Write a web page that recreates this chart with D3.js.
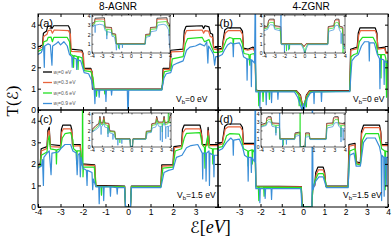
<!DOCTYPE html>
<html lang="en">
<head>
<script src="https://d3js.org/d3.v7.min.js"></script>
<style>
  body { margin: 0; background: #fff; }
  svg { display: block; font-family: "Liberation Sans", Arial, sans-serif; }
</style>
</head>
<body>
<svg id="chart" width="392" height="242"></svg>
<script>
// ---- data: transmission T(E), [E (eV), T] ----
const seriesNames = ['0 eV', '0.3 eV', '0.6 eV', '0.9 eV'];
const energyTicks = [-4, -3, -2, -1, 0, 1, 2, 3, 4];
const mainTicksT = [0, 1, 2, 3, 4];
const insetTicksT = [0, 1, 2, 3, 4];

// (a) 8-AGNR, Vb = 0
const aBlack = [[-4,2.95],[-3.8,3.05],[-3.76,3.6],[-3.62,3.7],[-3.58,3.9],[-3.45,3.95],[-3.38,3.82],[-3.3,3.95],[-2.65,3.95],[-2.58,3.8],[-2.55,2.85],[-2.05,2.8],[-2.0,2.65],[-1.97,1.95],[-1.65,1.95],[-1.6,1.8],[-1.58,0.98],[1.5,0.98],[1.53,1.2],[1.56,1.95],[1.86,1.95],[1.9,2.8],[2.45,2.85],[2.5,3.7],[2.58,3.92],[3.3,3.95],[3.36,3.82],[3.42,3.95],[3.6,3.9],[3.66,3.6],[3.76,3.55],[3.8,2.95],[4,2.9]];
const aRed = [[-4,2.85],[-3.8,2.95],[-3.75,3.45],[-3.6,3.55],[-3.55,3.72],[-3.42,3.75],[-3.36,3.6],[-3.28,3.75],[-2.65,3.72],[-2.56,3.55],[-2.52,2.75],[-2.05,2.72],[-1.98,2.55],[-1.94,1.92],[-1.65,1.9],[-1.58,1.7],[-1.55,0.97],[1.5,0.97],[1.55,1.25],[1.58,1.9],[1.86,1.9],[1.92,2.72],[2.45,2.75],[2.52,3.5],[2.6,3.72],[3.3,3.75],[3.36,3.6],[3.42,3.72],[3.58,3.7],[3.65,3.45],[3.76,3.4],[3.82,2.85],[4,2.82]];
const aGreen = [[-4,2.75],[-3.8,2.85],[-3.74,3.2],[-3.6,3.25],[-3.55,3.4],[-3.42,3.42],[-3.36,3.2],[-3.3,3.4],[-2.7,3.4],[-2.6,3.2],[-2.55,2.6],[-2.45,2.55],[-2.42,2.0],[-2.4,2.55],[-2.25,2.5],[-2.22,1.9],[-2.2,2.5],[-2.05,2.45],[-1.95,1.85],[-1.65,1.8],[-1.55,1.5],[-1.5,0.95],[-1.42,0.95],[-1.4,0.65],[-1.38,0.95],[-1.05,0.95],[-1.03,0.75],[-1.0,0.95],[1.5,0.95],[1.58,1.6],[1.62,1.8],[1.9,1.85],[1.97,2.4],[2.45,2.5],[2.55,3.1],[2.65,3.35],[3.3,3.4],[3.4,3.2],[3.6,3.3],[3.7,3.0],[3.82,2.7],[4,2.7]];
const aBlue = [[-4,2.6],[-3.85,2.7],[-3.75,3.0],[-3.72,2.0],[-3.7,3.0],[-3.55,3.1],[-3.45,3.05],[-3.38,2.1],[-3.35,3.0],[-3.2,3.1],[-3.1,3.2],[-3.0,3.05],[-2.85,3.2],[-2.7,3.0],[-2.6,2.6],[-2.5,2.5],[-2.48,2.0],[-2.46,2.45],[-2.3,2.4],[-2.28,1.9],[-2.26,2.35],[-2.1,2.3],[-1.95,1.75],[-1.75,1.7],[-1.62,1.4],[-1.55,1.0],[-1.5,0.93],[-1.47,0.3],[-1.45,0.93],[-1.3,0.93],[-1.28,0.6],[-1.26,0.93],[-1.0,0.93],[-0.98,0.4],[-0.96,0.93],[-0.75,0.93],[-0.73,0.7],[-0.71,0.93],[-0.03,0.93],[-0.01,0],[0.01,0],[0.03,0.93],[1.5,0.93],[1.6,1.5],[1.7,1.7],[1.9,1.75],[2.0,2.1],[2.2,2.2],[2.45,2.3],[2.6,2.8],[2.75,2.95],[3.0,3.0],[3.2,3.1],[3.4,3.0],[3.5,3.2],[3.55,2.2],[3.58,3.0],[3.7,2.8],[3.8,2.6],[3.85,2.1],[3.9,2.5],[4,2.5]];
const aInBlack = [[-4,3.2],[-3.75,3.3],[-3.68,3.75],[-2.72,3.8],[-2.66,2.8],[-2.0,2.75],[-1.95,2.1],[-1.58,2.05],[-1.52,1.0],[1.45,1.0],[1.5,2.0],[1.95,2.05],[2.0,2.75],[2.6,2.8],[2.66,3.75],[3.68,3.8],[3.75,3.3],[3.9,3.2],[4,2.8]];
const aInRed = [[-4,3.1],[-3.75,3.2],[-3.68,3.62],[-2.72,3.65],[-2.66,2.72],[-2.0,2.7],[-1.95,2.05],[-1.58,2.0],[-1.52,0.98],[1.45,0.98],[1.5,1.95],[1.95,2.0],[2.0,2.7],[2.6,2.72],[2.66,3.62],[3.68,3.65],[3.75,3.2],[3.9,3.1],[4,2.6]];
const aInGreen = [[-4,3.0],[-3.75,3.1],[-3.66,3.4],[-3.2,3.45],[-2.75,3.4],[-2.66,2.6],[-2.5,2.55],[-2.48,1.9],[-2.46,2.55],[-2.0,2.5],[-1.95,1.95],[-1.6,1.9],[-1.5,0.95],[-1.3,0.95],[-1.28,0.5],[-1.26,0.95],[1.45,0.95],[1.52,1.85],[1.95,1.9],[2.02,2.55],[2.6,2.6],[2.7,3.3],[3.65,3.4],[3.75,3.0],[3.9,2.9],[4,2.0]];
const aInBlue = [[-4,2.8],[-3.8,2.9],[-3.7,3.05],[-3.68,2.2],[-3.66,3.0],[-3.2,3.1],[-2.8,3.0],[-2.65,2.4],[-2.5,2.35],[-2.48,1.5],[-2.46,2.3],[-2.0,2.2],[-1.95,1.8],[-1.7,1.75],[-1.6,1.2],[-1.55,0.93],[-1.5,0.3],[-1.45,0.93],[-1.2,0.93],[-1.18,0.4],[-1.16,0.93],[-0.9,0.93],[-0.88,0.55],[-0.86,0.93],[1.45,0.93],[1.55,1.7],[1.95,1.8],[2.05,2.3],[2.6,2.4],[2.75,3.0],[3.3,3.1],[3.6,3.0],[3.75,2.7],[3.85,2.5],[3.95,0.8],[4,0.5]];

// (b) 4-ZGNR, Vb = 0
const bBlack = [[-4,2.85],[-3.8,2.9],[-3.75,3.3],[-3.68,3.75],[-3.55,3.85],[-2.95,3.85],[-2.85,3.7],[-2.8,2.9],[-2.6,2.85],[-2.35,2.95],[-2.25,2.8],[-2.22,0.95],[-2.1,0.9],[-0.3,0.9],[-0.12,0.7],[0.02,0.0],[0.16,0.7],[0.3,0.9],[2.2,0.92],[2.24,2.85],[2.55,2.95],[2.6,3.6],[2.68,3.85],[3.4,3.85],[3.48,3.6],[3.52,2.9],[3.85,2.95],[3.9,2.7],[4,2.7]];
const bRed = [[-4,2.8],[-3.8,2.85],[-3.74,3.2],[-3.66,3.6],[-3.52,3.72],[-2.95,3.72],[-2.85,3.55],[-2.8,2.85],[-2.6,2.8],[-2.35,2.88],[-2.26,2.7],[-2.22,0.93],[-2.1,0.88],[-0.3,0.88],[-0.12,0.65],[0.02,0.0],[0.16,0.65],[0.3,0.88],[2.2,0.9],[2.25,2.8],[2.55,2.88],[2.62,3.5],[2.7,3.72],[3.4,3.72],[3.48,3.5],[3.53,2.85],[3.85,2.9],[3.9,2.65],[4,2.65]];
const bGreen = [[-4,2.7],[-3.8,2.75],[-3.72,3.0],[-3.6,3.3],[-3.45,3.4],[-3.3,3.35],[-3.28,3.0],[-3.26,3.35],[-2.95,3.35],[-2.85,3.1],[-2.78,2.65],[-2.55,2.6],[-2.5,2.1],[-2.48,2.6],[-2.3,2.65],[-2.24,2.3],[-2.22,0.9],[-2.1,0.88],[-2.08,0.2],[-2.06,0.88],[-1.9,0.88],[-1.88,0.4],[-1.86,0.88],[-1.6,0.88],[-1.58,0.5],[-1.56,0.88],[-0.35,0.88],[-0.2,0.7],[-0.18,0.2],[-0.16,0.6],[0.0,0.0],[0.14,0.5],[0.16,0.15],[0.18,0.6],[0.35,0.85],[2.2,0.88],[2.26,2.5],[2.4,2.6],[2.55,2.65],[2.65,3.2],[2.8,3.4],[3.3,3.4],[3.45,3.1],[3.52,2.6],[3.65,2.6],[3.67,1.5],[3.69,2.6],[3.85,2.6],[3.9,2.4],[3.93,0.6],[3.96,2.3],[4,2.3]];
const bBlue = [[-4,2.5],[-3.8,2.6],[-3.7,2.8],[-3.55,3.05],[-3.4,3.15],[-3.3,3.1],[-3.28,2.5],[-3.26,3.1],[-3.0,3.15],[-2.9,2.95],[-2.8,2.5],[-2.65,2.4],[-2.63,1.4],[-2.61,2.4],[-2.45,2.35],[-2.43,1.1],[-2.41,2.35],[-2.28,2.2],[-2.24,6],[-2.22,0.85],[-2.05,0.85],[-2.03,0.1],[-2.01,0.85],[-1.75,0.85],[-1.73,0.25],[-1.71,0.85],[-1.5,0.85],[-1.48,0.35],[-1.46,0.85],[-1.2,0.85],[-1.18,0.5],[-1.16,0.85],[-0.4,0.85],[-0.25,0.6],[-0.05,0.0],[0.02,0.3],[0.05,0.0],[0.2,0.55],[0.35,0.8],[0.5,0.85],[0.52,0.3],[0.54,0.85],[0.85,0.85],[0.87,0.4],[0.89,0.85],[2.2,0.86],[2.3,2.3],[2.45,2.5],[2.6,2.6],[2.75,3.0],[2.9,3.2],[3.1,3.2],[3.12,2.3],[3.14,3.15],[3.35,3.15],[3.5,2.6],[3.6,2.4],[3.62,1.0],[3.64,2.4],[3.8,2.35],[3.82,1.2],[3.84,2.3],[4,2.2]];
const bInBlack = [[-4,2.8],[-3.65,2.9],[-3.55,3.5],[-3.45,3.65],[-3.0,3.65],[-2.95,2.95],[-2.35,2.85],[-2.3,1.0],[-0.25,1.0],[-0.05,0.7],[0.15,1.0],[2.3,1.0],[2.35,2.85],[2.9,2.95],[2.98,3.5],[3.1,3.65],[3.4,3.65],[3.45,2.9],[3.78,2.8],[3.82,0.9],[4,0.85]];
const bInRed = [[-4,2.72],[-3.65,2.82],[-3.55,3.4],[-3.45,3.55],[-3.0,3.55],[-2.95,2.85],[-2.35,2.78],[-2.3,0.98],[-0.25,0.98],[-0.05,0.65],[0.15,0.98],[2.3,0.98],[2.35,2.78],[2.9,2.88],[2.98,3.4],[3.1,3.55],[3.4,3.55],[3.45,2.85],[3.78,2.72],[3.82,0.85],[4,0.8]];
const bInGreen = [[-4,2.6],[-3.65,2.7],[-3.55,3.15],[-3.4,3.3],[-3.05,3.3],[-2.95,2.7],[-2.4,2.6],[-2.3,0.95],[-1.8,0.95],[-1.78,0.2],[-1.76,0.95],[-1.5,0.95],[-1.48,0.4],[-1.46,0.95],[-0.3,0.95],[-0.05,0.5],[0.05,0.0],[0.15,0.6],[0.3,0.95],[2.3,0.95],[2.38,2.6],[2.9,2.7],[3.0,3.2],[3.15,3.3],[3.35,3.25],[3.45,2.7],[3.75,2.6],[3.8,0.0],[3.85,0.7],[4,0.7]];
const bInBlue = [[-4,2.4],[-3.65,2.55],[-3.5,2.9],[-3.35,3.05],[-3.05,3.0],[-2.95,2.55],[-2.4,2.4],[-2.3,6],[-2.28,0.9],[-2.0,0.9],[-1.98,0.1],[-1.96,0.9],[-1.6,0.9],[-1.58,0.3],[-1.56,0.9],[-0.3,0.9],[-0.1,0.4],[0.0,0.0],[0.1,0.2],[0.2,0.5],[0.35,0.9],[2.3,0.9],[2.4,2.35],[2.9,2.5],[3.0,2.9],[3.2,3.0],[3.35,2.95],[3.45,2.5],[3.6,2.2],[3.62,1.0],[3.64,2.1],[3.78,2.0],[3.85,0.5],[4,0.5]];

// (c) 8-AGNR, Vb = 1.5 eV
const cBlack = [[-4,1.95],[-3.9,2.0],[-3.86,2.7],[-3.6,2.8],[-3.56,3.55],[-3.5,3.7],[-3.46,2.9],[-3.0,2.85],[-2.96,3.6],[-2.9,3.8],[-2.55,3.8],[-2.5,3.6],[-2.47,2.9],[-2.12,2.9],[-2.08,2.0],[-1.48,1.95],[-1.44,1.0],[-0.15,0.97],[-0.11,0.0],[0.11,0.0],[0.15,0.97],[1.46,0.97],[1.5,1.95],[2.0,1.95],[2.04,2.8],[2.38,2.85],[2.42,3.6],[2.5,3.8],[3.2,3.8],[3.26,3.5],[3.3,2.9],[3.52,2.9],[3.56,3.7],[3.62,2.9],[4,2.9]];
const cRed = [[-4,1.9],[-3.9,1.95],[-3.85,2.6],[-3.6,2.72],[-3.55,3.45],[-3.5,3.55],[-3.45,2.8],[-3.0,2.78],[-2.95,3.45],[-2.88,3.62],[-2.55,3.62],[-2.48,3.4],[-2.45,2.82],[-2.12,2.85],[-2.06,1.95],[-1.48,1.92],[-1.42,0.97],[-0.15,0.95],[-0.11,0.0],[0.11,0.0],[0.15,0.95],[1.46,0.95],[1.52,1.9],[2.0,1.92],[2.06,2.75],[2.38,2.8],[2.44,3.45],[2.55,3.62],[3.2,3.62],[3.28,3.3],[3.32,2.85],[3.52,2.85],[3.56,3.55],[3.62,2.85],[4,2.85]];
const cGreen = [[-4,1.85],[-3.9,1.9],[-3.85,2.4],[-3.6,2.55],[-3.55,3.1],[-3.5,3.3],[-3.45,2.7],[-3.2,2.65],[-3.18,2.0],[-3.16,2.65],[-3.0,2.7],[-2.92,3.2],[-2.8,3.4],[-2.55,3.45],[-2.45,3.1],[-2.42,2.7],[-2.3,2.6],[-2.28,2.0],[-2.26,2.6],[-2.12,2.6],[-2.08,2.1],[-2.03,1.9],[-2.02,6],[-2.0,1.4],[-1.98,1.85],[-1.5,1.85],[-1.42,0.95],[-1.2,0.95],[-1.18,0.55],[-1.16,0.95],[-0.15,0.93],[-0.11,0.0],[0.11,0.0],[0.15,0.93],[1.46,0.93],[1.55,1.8],[2.0,1.85],[2.1,2.6],[2.38,2.7],[2.5,3.2],[2.6,3.42],[3.2,3.45],[3.3,2.9],[3.4,2.75],[3.42,1.8],[3.44,2.75],[3.55,3.3],[3.6,2.75],[3.75,2.7],[3.77,2.0],[3.79,2.7],[4,2.7]];
const cBlue = [[-4,1.8],[-3.85,1.9],[-3.8,2.2],[-3.76,1.0],[-3.74,2.3],[-3.6,2.5],[-3.5,2.6],[-3.42,1.5],[-3.38,2.5],[-3.1,2.55],[-2.95,2.75],[-2.8,2.9],[-2.55,2.9],[-2.45,2.6],[-2.3,2.5],[-2.26,1.5],[-2.22,2.4],[-2.15,2.5],[-2.12,1.4],[-2.08,2.3],[-2.0,1.8],[-1.85,1.7],[-1.82,1.0],[-1.8,1.7],[-1.6,1.6],[-1.57,0.8],[-1.54,1.3],[-1.42,0.93],[-1.3,0.93],[-1.28,0.15],[-1.26,0.93],[-1.1,0.93],[-1.08,0.3],[-1.06,0.93],[-0.8,0.93],[-0.78,0.5],[-0.76,0.93],[-0.5,0.9],[-0.48,0.6],[-0.46,0.9],[-0.15,0.9],[-0.11,0.0],[0.11,0.0],[0.15,0.9],[1.46,0.9],[1.6,1.6],[1.8,1.7],[2.0,1.75],[2.15,2.3],[2.4,2.4],[2.6,2.75],[2.8,2.85],[3.1,2.9],[3.2,2.7],[3.3,2.5],[3.32,1.3],[3.34,2.5],[3.45,2.5],[3.47,1.2],[3.49,2.5],[3.6,2.6],[3.62,1.0],[3.64,2.5],[3.8,2.4],[3.82,1.4],[3.84,2.4],[4,2.4]];
const cInBlack = [[-4,2.1],[-3.6,2.6],[-3.3,2.85],[-3.2,3.7],[-3.1,2.9],[-2.9,2.9],[-2.8,3.7],[-2.7,2.9],[-2.3,2.85],[-2.2,1.95],[-1.7,1.9],[-1.6,1.0],[-0.15,1.0],[-0.1,0.0],[0.1,0.0],[0.15,1.0],[1.45,1.0],[1.5,1.9],[2.0,1.95],[2.05,2.8],[2.45,2.9],[2.55,3.7],[2.7,3.0],[3.2,3.0],[3.3,3.7],[3.4,2.9],[3.8,3.1],[3.9,3.8],[4,3.8]];
const cInRed = [[-4,2.05],[-3.6,2.5],[-3.3,2.78],[-3.2,3.55],[-3.1,2.85],[-2.9,2.85],[-2.8,3.55],[-2.7,2.85],[-2.3,2.8],[-2.2,1.9],[-1.7,1.85],[-1.6,0.98],[-0.15,0.98],[-0.1,0.0],[0.1,0.0],[0.15,0.98],[1.45,0.98],[1.5,1.85],[2.0,1.9],[2.05,2.75],[2.45,2.85],[2.55,3.55],[2.7,2.95],[3.2,2.95],[3.3,3.55],[3.4,2.85],[3.8,3.0],[3.9,3.6],[4,3.6]];
const cInGreen = [[-4,1.9],[-3.6,2.3],[-3.3,2.6],[-3.2,3.3],[-3.1,2.7],[-2.9,2.7],[-2.8,3.3],[-2.7,2.7],[-2.4,2.6],[-2.38,1.6],[-2.36,2.6],[-2.2,1.85],[-1.7,1.8],[-1.6,0.95],[-1.2,0.95],[-1.18,0.5],[-1.16,0.95],[-0.15,0.95],[-0.1,0.0],[0.1,0.0],[0.15,0.95],[1.45,0.95],[1.52,1.8],[2.0,1.85],[2.07,2.6],[2.45,2.7],[2.55,3.3],[2.7,2.8],[3.1,2.8],[3.12,1.8],[3.14,2.8],[3.3,3.3],[3.4,2.7],[3.7,2.8],[3.75,6],[3.78,2.9],[4,3.0]];
const cInBlue = [[-4,1.8],[-3.6,2.1],[-3.3,2.4],[-3.2,2.9],[-3.1,2.4],[-3.08,1.5],[-3.06,2.4],[-2.8,2.8],[-2.7,2.4],[-2.4,2.3],[-2.38,1.2],[-2.36,2.3],[-2.2,1.7],[-1.9,1.6],[-1.88,0.9],[-1.86,1.6],[-1.6,0.93],[-1.4,0.93],[-1.38,0.2],[-1.36,0.93],[-1.0,0.93],[-0.98,0.4],[-0.96,0.93],[-0.15,0.93],[-0.1,0.0],[0.1,0.0],[0.15,0.93],[1.45,0.93],[1.6,1.7],[2.0,1.75],[2.1,2.3],[2.45,2.4],[2.6,2.9],[2.75,2.5],[2.9,2.5],[2.92,0.8],[2.94,2.5],[3.1,2.5],[3.12,0.6],[3.14,2.5],[3.3,2.9],[3.45,2.4],[3.47,1.0],[3.49,2.4],[3.7,2.5],[3.72,1.2],[3.74,2.5],[4,2.6]];

// (d) 4-ZGNR, Vb = 1.5 eV
const dBlack = [[-4,2.95],[-3.8,3.0],[-3.75,3.3],[-3.68,3.75],[-3.55,3.85],[-2.95,3.85],[-2.85,3.7],[-2.8,2.95],[-2.3,2.95],[-2.25,2.8],[-2.22,0.97],[-0.08,0.95],[-0.04,0.02],[0.42,0.02],[0.46,0.95],[0.55,1.0],[0.6,1.6],[0.7,1.85],[0.95,1.85],[1.02,1.6],[1.08,0.97],[2.12,0.97],[2.16,2.9],[2.45,2.95],[2.5,2.1],[2.7,2.05],[2.75,3.5],[2.85,3.8],[3.6,3.8],[3.66,3.5],[3.7,2.9],[4,2.9]];
const dRed = [[-4,2.88],[-3.8,2.92],[-3.75,3.2],[-3.66,3.62],[-3.52,3.72],[-2.95,3.72],[-2.85,3.55],[-2.8,2.9],[-2.3,2.9],[-2.25,2.75],[-2.22,0.95],[-0.08,0.93],[-0.04,0.02],[0.42,0.02],[0.46,0.93],[0.55,0.98],[0.62,1.5],[0.72,1.72],[0.95,1.72],[1.02,1.5],[1.08,0.95],[2.12,0.95],[2.17,2.82],[2.45,2.88],[2.5,2.05],[2.7,2.0],[2.76,3.4],[2.88,3.68],[3.6,3.68],[3.66,3.4],[3.7,2.85],[4,2.85]];
const dGreen = [[-4,2.75],[-3.8,2.8],[-3.7,3.0],[-3.6,3.3],[-3.45,3.4],[-3.0,3.38],[-2.88,3.1],[-2.8,2.7],[-2.6,2.6],[-2.58,1.9],[-2.56,2.6],[-2.4,2.65],[-2.38,2.0],[-2.36,2.65],[-2.25,2.5],[-2.22,0.92],[-2.1,0.92],[-2.08,0.3],[-2.06,0.92],[-1.85,0.92],[-1.83,0.5],[-1.81,0.92],[-0.08,0.9],[-0.04,0.02],[0.42,0.02],[0.46,0.9],[0.6,1.3],[0.72,1.55],[0.95,1.55],[1.05,1.2],[1.1,0.92],[2.12,0.92],[2.2,2.6],[2.45,2.7],[2.5,2.0],[2.7,1.95],[2.8,3.1],[2.95,3.4],[3.55,3.4],[3.65,3.0],[3.7,2.7],[3.85,2.6],[3.87,0.8],[3.89,2.6],[4,2.55]];
const dBlue = [[-4,2.6],[-3.8,2.7],[-3.6,3.0],[-3.4,3.2],[-3.3,3.1],[-3.28,2.4],[-3.26,3.1],[-3.0,3.15],[-2.85,2.8],[-2.75,2.4],[-2.6,2.3],[-2.58,1.2],[-2.56,2.3],[-2.45,2.3],[-2.43,1.6],[-2.41,2.3],[-2.28,2.1],[-2.24,6],[-2.22,0.85],[-2.05,0.85],[-2.03,0.2],[-2.01,0.85],[-1.8,0.85],[-1.78,0.4],[-1.76,0.85],[-1.5,0.85],[-1.48,0.35],[-1.46,0.85],[-0.1,0.85],[-0.05,0.0],[0.42,0.0],[0.44,6],[0.47,0.8],[0.6,1.2],[0.75,1.4],[0.95,1.4],[1.1,0.9],[2.12,0.9],[2.2,2.4],[2.4,2.5],[2.5,1.9],[2.7,1.9],[2.85,3.0],[3.0,3.2],[3.4,3.2],[3.6,2.8],[3.68,2.4],[3.7,0.3],[3.72,2.4],[3.8,2.3],[3.82,0.5],[3.84,2.3],[3.9,2.3],[3.92,1.0],[3.94,2.3],[4,2.3]];
const dInBlack = [[-4,2.7],[-3.5,2.9],[-3.45,3.5],[-3.35,3.65],[-3.05,3.65],[-2.95,2.9],[-2.25,2.85],[-2.2,1.0],[-0.8,1.0],[-0.75,1.7],[-0.3,1.8],[-0.25,0.02],[0.2,0.02],[0.25,1.7],[0.6,1.7],[0.65,1.0],[2.2,1.0],[2.25,2.85],[2.85,2.9],[2.9,3.5],[3.0,3.65],[3.35,3.65],[3.4,2.9],[4,2.8]];
const dInRed = [[-4,2.62],[-3.5,2.82],[-3.45,3.38],[-3.35,3.52],[-3.05,3.52],[-2.95,2.82],[-2.25,2.78],[-2.2,0.98],[-0.8,0.98],[-0.75,1.6],[-0.3,1.7],[-0.25,0.02],[0.2,0.02],[0.25,1.6],[0.6,1.6],[0.65,0.98],[2.2,0.98],[2.25,2.78],[2.85,2.85],[2.9,3.38],[3.0,3.52],[3.35,3.52],[3.4,2.82],[4,2.72]];
const dInGreen = [[-4,2.5],[-3.5,2.7],[-3.45,3.1],[-3.3,3.3],[-3.05,3.3],[-2.95,2.7],[-2.6,2.6],[-2.58,1.7],[-2.56,2.6],[-2.25,2.6],[-2.2,0.95],[-1.9,0.95],[-1.88,0.2],[-1.86,0.95],[-0.8,0.95],[-0.75,1.5],[-0.3,1.6],[-0.27,6],[-0.25,0.02],[0.2,0.02],[0.25,1.45],[0.6,1.45],[0.65,0.95],[2.2,0.95],[2.28,2.55],[2.85,2.7],[2.95,3.15],[3.05,3.3],[3.35,3.3],[3.4,2.7],[3.6,2.6],[3.62,1.2],[3.64,2.6],[4,2.55]];
const dInBlue = [[-4,2.4],[-3.5,2.6],[-3.4,2.9],[-3.3,3.05],[-3.05,3.0],[-2.95,2.5],[-2.6,2.4],[-2.58,1.4],[-2.56,2.4],[-2.25,2.3],[-2.22,6],[-2.2,0.9],[-1.95,0.9],[-1.93,0.1],[-1.91,0.9],[-1.6,0.9],[-1.58,0.3],[-1.56,0.9],[-0.8,0.9],[-0.7,1.3],[-0.32,1.4],[-0.28,0.0],[0.22,0.0],[0.25,1.2],[0.6,1.25],[0.68,0.9],[2.2,0.9],[2.3,2.3],[2.85,2.45],[3.0,2.9],[3.3,2.95],[3.4,2.5],[3.6,2.3],[3.62,0.6],[3.64,2.3],[3.8,2.2],[3.82,0.8],[3.84,2.2],[4,2.2]];

const colors = ['#000000', '#e8643c', '#22e022', '#3a8ed8'];

const panels = [
  { key: 'a', xr: [38, 218], yr: [110, 14], lines: [aBlack, aRed, aGreen, aBlue],
    inset: { xr: [92, 170], yr: [53, 15], lines: [aInBlack, aInRed, aInGreen, aInBlue] },
    xLabels: [], showY: true, vb: '0', vbX: 176, vbY: 102 },
  { key: 'b', xr: [218, 388], yr: [110, 14], lines: [bBlack, bRed, bGreen, bBlue],
    inset: { xr: [264, 345], yr: [53, 15], lines: [bInBlack, bInRed, bInGreen, bInBlue] },
    xLabels: [], showY: false, vb: '0', vbX: 353, vbY: 102 },
  { key: 'c', xr: [38, 218], yr: [207, 110], lines: [cBlack, cRed, cGreen, cBlue],
    inset: { xr: [92, 171], yr: [147, 113], lines: [cInBlack, cInRed, cInGreen, cInBlue] },
    xLabels: [-4, -3, -2, -1, 0, 1, 2, 3], showY: true, vb: '1.5', vbX: 177, vbY: 198 },
  { key: 'd', xr: [218, 388], yr: [207, 110], lines: [dBlack, dRed, dGreen, dBlue],
    inset: { xr: [261, 345], yr: [147, 113], lines: [dInBlack, dInRed, dInGreen, dInBlue] },
    xLabels: [-3, -2, -1, 0, 1, 2, 3, 4], showY: false, vb: '1.5', vbX: 343, vbY: 198 }
];

const svg = d3.select('#chart');
svg.append('rect').attr('width', 392).attr('height', 242).attr('fill', '#fff');

function drawBox(g, x, y, opts) {
  const fmtX = d => (opts.xLabels.includes(d) ? String(d) : '');
  const fmtY = d => (opts.showY ? String(d) : '');
  const bottom = d3.axisBottom(x).tickValues(energyTicks).tickSize(-opts.tick).tickSizeOuter(0)
    .tickPadding(opts.pad).tickFormat(fmtX);
  const left = d3.axisLeft(y).tickValues(opts.yTicks).tickSize(-opts.tick).tickSizeOuter(0)
    .tickPadding(opts.pad).tickFormat(fmtY);
  const top = d3.axisTop(x).tickValues(energyTicks).tickSize(-opts.tick).tickSizeOuter(0).tickFormat('');
  const right = d3.axisRight(y).tickValues(opts.yTicks).tickSize(-opts.tick).tickSizeOuter(0).tickFormat('');
  const y0 = y.range()[0], y1 = y.range()[1], x0 = x.range()[0], x1 = x.range()[1];
  [[bottom, `translate(0,${y0})`], [left, `translate(${x0},0)`],
   [top, `translate(0,${y1})`], [right, `translate(${x1},0)`]].forEach(([ax, tr]) => {
    const a = g.append('g').attr('transform', tr).call(ax);
    a.select('.domain').remove();
    a.selectAll('line').attr('stroke', '#000').attr('stroke-width', opts.sw);
    a.selectAll('text').attr('font-size', opts.font).attr('fill', '#000')
      .attr('font-family', '"Liberation Sans", Arial, sans-serif');
  });
  g.append('rect').attr('x', x0).attr('y', y1).attr('width', x1 - x0).attr('height', y0 - y1)
    .attr('fill', 'none').attr('stroke', '#000').attr('stroke-width', opts.sw);
}

function drawLines(g, x, y, lines, id, sw) {
  const x0 = x.range()[0], x1 = x.range()[1], y0 = y.range()[0], y1 = y.range()[1];
  svg.append('clipPath').attr('id', id).append('rect')
    .attr('x', x0).attr('y', y1).attr('width', x1 - x0).attr('height', y0 - y1);
  const line = d3.line().x(d => x(d[0])).y(d => y(d[1]));
  const lg = g.append('g').attr('clip-path', `url(#${id})`);
  lines.forEach((s, i) => {
    lg.append('path').datum(s).attr('d', line).attr('fill', 'none')
      .attr('stroke', colors[i]).attr('stroke-width', sw).attr('stroke-linejoin', 'round');
  });
}

panels.forEach(p => {
  const g = svg.append('g');
  const x = d3.scaleLinear().domain([-4, 4]).range(p.xr);
  const y = d3.scaleLinear().domain([0, 4.5]).range(p.yr);
  drawLines(g, x, y, p.lines, 'clip-' + p.key, 1.2);
  drawBox(g, x, y, { tick: 3, pad: 2, font: 8.5, sw: 1, xLabels: p.xLabels, showY: p.showY, yTicks: mainTicksT });

  // inset
  const xi = d3.scaleLinear().domain([-4, 4]).range(p.inset.xr);
  const yi = d3.scaleLinear().domain([0, 4.1]).range(p.inset.yr);
  g.append('rect').attr('x', p.inset.xr[0]).attr('y', p.inset.yr[1])
    .attr('width', p.inset.xr[1] - p.inset.xr[0]).attr('height', p.inset.yr[0] - p.inset.yr[1])
    .attr('fill', '#fff');
  drawLines(g, xi, yi, p.inset.lines, 'clipin-' + p.key, 0.7);
  drawBox(g, xi, yi, { tick: 1.5, pad: 1.5, font: 5, sw: 0.6, xLabels: energyTicks, showY: true, yTicks: insetTicksT });

  // panel letter
  g.append('text').attr('x', p.xr[0] + 1.5).attr('y', p.yr[1] + 12.5)
    .attr('font-size', 11).text(`(${p.key})`);

  // bias label
  const vb = g.append('text').attr('x', p.vbX).attr('y', p.vbY).attr('font-size', 8.5);
  vb.append('tspan').text('V');
  vb.append('tspan').attr('font-size', 6).attr('dy', 2).text('b');
  vb.append('tspan').attr('dy', -2).text(`=${p.vb} eV`);
});

// legend in panel (a)
const legY = [72, 82.5, 93, 103.5];
seriesNames.forEach((name, i) => {
  svg.append('line').attr('x1', 43).attr('x2', 52).attr('y1', legY[i]).attr('y2', legY[i])
    .attr('stroke', colors[i]).attr('stroke-width', 1.3);
  const t = svg.append('text').attr('x', 53.5).attr('y', legY[i] + 1.8)
    .attr('font-size', 5).attr('fill', '#555');
  t.append('tspan').attr('font-style', 'italic').text('w');
  t.append('tspan').attr('font-size', 3.5).attr('dy', 1).text('I');
  t.append('tspan').attr('dy', -1).text('=' + name);
});

// titles
svg.append('text').attr('x', 118).attr('y', 10).attr('text-anchor', 'middle')
  .attr('font-size', 10).text('8-AGNR');
svg.append('text').attr('x', 311).attr('y', 10).attr('text-anchor', 'middle')
  .attr('font-size', 10).text('4-ZGNR');

// axis labels
const yl = svg.append('text').attr('transform', 'translate(18,101) rotate(-90)')
  .attr('text-anchor', 'middle').attr('font-size', 17)
  .attr('font-family', '"Liberation Serif", "DejaVu Serif", serif');
yl.append('tspan').text('T(');
yl.append('tspan').attr('font-family', '"DejaVu Serif", "DejaVu Sans", serif').attr('font-size', 15).text('\u2130');
yl.append('tspan').text(')');

const xl = svg.append('text').attr('x', 190).attr('y', 233).attr('font-size', 18)
  .attr('font-family', '"Liberation Serif", "DejaVu Serif", serif');
xl.append('tspan').attr('font-family', '"DejaVu Serif", "DejaVu Sans", serif').attr('font-size', 16).text('\u2130');
xl.append('tspan').text('[');
xl.append('tspan').attr('font-style', 'italic').text('eV');
xl.append('tspan').text(']');
</script>
</body>
</html>
